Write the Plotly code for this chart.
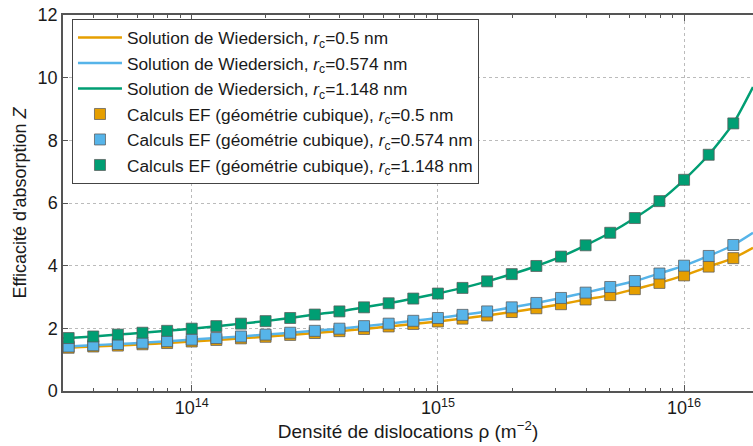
import math
import plotly.graph_objects as go

# Dislocation density exponents (log10 of rho in m^-2) for the FE points
log_rho_pts = [13.5, 13.6, 13.7, 13.8, 13.9, 14.0, 14.1, 14.2, 14.3, 14.4,
               14.5, 14.6, 14.7, 14.8, 14.9, 15.0, 15.1, 15.2, 15.3, 15.4,
               15.5, 15.6, 15.7, 15.8, 15.9, 16.0, 16.1, 16.2]

# FE (calculs EF) values
z_ef_05 = [1.38, 1.42, 1.45, 1.49, 1.53, 1.58, 1.63, 1.68, 1.73, 1.79,
           1.85, 1.91, 1.98, 2.06, 2.14, 2.22, 2.31, 2.41, 2.52, 2.64,
           2.77, 2.92, 3.06, 3.25, 3.45, 3.69, 3.97, 4.24]
z_ef_0574 = [1.42, 1.46, 1.50, 1.54, 1.59, 1.64, 1.69, 1.74, 1.80, 1.86,
             1.92, 1.99, 2.07, 2.15, 2.24, 2.33, 2.43, 2.54, 2.67, 2.81,
             2.97, 3.14, 3.32, 3.51, 3.75, 4.00, 4.31, 4.66]
z_ef_1148 = [1.69, 1.74, 1.80, 1.86, 1.92, 1.99, 2.07, 2.15, 2.23, 2.33,
             2.44, 2.54, 2.67, 2.80, 2.95, 3.11, 3.29, 3.50, 3.73, 3.99,
             4.29, 4.65, 5.05, 5.52, 6.06, 6.74, 7.54, 8.54]

# Wiedersich solution curves (read at the same densities plus both plot edges)
log_rho_line = [13.477] + log_rho_pts + [16.28]
z_w_05 = [1.37] + z_ef_05 + [4.57]
z_w_0574 = [1.41] + z_ef_0574 + [5.05]
z_w_1148 = [1.68] + z_ef_1148 + [9.70]

x_ticks = [14, 15, 16]
x_tick_text = ["10<sup>14</sup>", "10<sup>15</sup>", "10<sup>16</sup>"]
x_minor = [m * 10 ** e for e in (13, 14, 15, 16) for m in range(2, 10)]

labels_w = ["Solution de Wiedersich, <i>r</i><sub>c</sub>=0.5 nm",
            "Solution de Wiedersich, <i>r</i><sub>c</sub>=0.574 nm",
            "Solution de Wiedersich, <i>r</i><sub>c</sub>=1.148 nm"]
labels_ef = ["Calculs EF (géométrie cubique), <i>r</i><sub>c</sub>=0.5 nm",
             "Calculs EF (géométrie cubique), <i>r</i><sub>c</sub>=0.574 nm",
             "Calculs EF (géométrie cubique), <i>r</i><sub>c</sub>=1.148 nm"]
colors = ["#E69F00", "#56B4E9", "#009E73"]

x_line = [10 ** v for v in log_rho_line]
x_pts = [10 ** v for v in log_rho_pts]

fig = go.Figure()
for z, lab, c in zip([z_w_05, z_w_0574, z_w_1148], labels_w, colors):
    fig.add_trace(go.Scatter(x=x_line, y=z, mode="lines", name=lab,
                             line=dict(color=c, width=2.5, shape="spline", smoothing=0.6)))
for z, lab, c in zip([z_ef_05, z_ef_0574, z_ef_1148], labels_ef, colors):
    fig.add_trace(go.Scatter(x=x_pts, y=z, mode="markers", name=lab,
                             marker=dict(symbol="square", size=11, color=c,
                                         line=dict(color="rgba(90,90,90,0.75)", width=1))))

font_family = "Liberation Sans, Arial, sans-serif"
fig.update_layout(
    width=753, height=446,
    margin=dict(l=63, r=0, t=15, b=55),
    plot_bgcolor="white", paper_bgcolor="white",
    font=dict(family=font_family, size=17, color="#1a1a1a"),
    showlegend=True,
    legend=dict(x=0.013, y=0.99, xanchor="left", yanchor="top",
                bgcolor="white", bordercolor="#444", borderwidth=1,
                font=dict(size=17.3), tracegroupgap=0, itemwidth=44),
    xaxis=dict(type="log", range=[math.log10(3e13), 16.28], automargin=False,
               tickvals=[10 ** v for v in x_ticks], ticktext=x_tick_text,
               showline=True, linecolor="#555", linewidth=1.5, mirror="allticks",
               ticks="inside", ticklen=6, tickcolor="#555",
               showgrid=True, gridcolor="#bbbbbb", griddash="dot", gridwidth=1,
               minor=dict(tickvals=x_minor, ticks="inside", ticklen=3,
                          tickcolor="#555", showgrid=False),
               tickfont=dict(size=18),
               title=dict(text="Densité de dislocations ρ (m<sup>−2</sup>)",
                          font=dict(size=19), standoff=0),
               zeroline=False),
    yaxis=dict(range=[0, 12], dtick=2, automargin=False, ticklabeloverflow="allow",
               showline=True, linecolor="#555", linewidth=1.5, mirror=False,
               ticks="inside", ticklen=5, tickcolor="#555",
               showgrid=True, gridcolor="#bbbbbb", griddash="dot", gridwidth=1,
               tickfont=dict(size=18),
               title=dict(text="Efficacité d'absorption <i>Z</i>",
                          font=dict(size=18), standoff=6),
               zeroline=False),
)

fig.write_html("out.html", config={"displayModeBar": False},
               post_script="document.body.style.margin='0';")
